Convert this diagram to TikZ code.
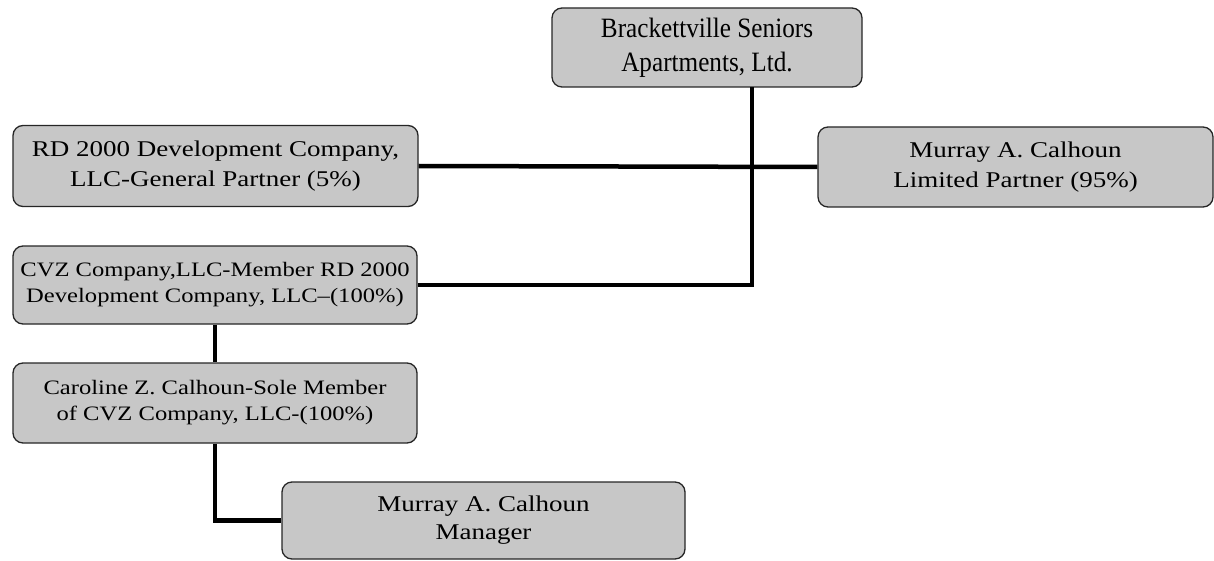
\documentclass[tikz,border=0pt]{standalone}
\usepackage{fontspec}
\setmainfont{Liberation Serif}[FakeStretch=1.2]
\newfontfamily\topfont{Liberation Serif}[FakeStretch=0.9]
\usetikzlibrary{positioning}

\begin{document}
\begin{tikzpicture}[x=1pt,y=-1pt]

      \tikzstyle{orgbox}=[rectangle,rounded corners=10pt,draw=black!85,
        line width=1.3pt,fill=black!22,align=center,inner sep=0pt,
        font=\rmfamily\fontsize{22.5}{30}\selectfont]
      \tikzstyle{link}=[line width=4.5pt,black]

      \useasboundingbox (0,0) rectangle (1214,561);

      \node(Seniors)[orgbox,minimum width=310pt,minimum height=79pt,
        font=\topfont\fontsize{28}{34}\selectfont] at (707,47.5)
        {Brackettville Seniors\\Apartments, Ltd.};
      \node(RDGP)[orgbox,minimum width=405pt,minimum height=81pt]
        at (215.5,166) {RD 2000 Development Company,\\LLC-General Partner (5\%)};
      \node(MurrayLP)[orgbox,minimum width=395pt,minimum height=80pt]
        at (1015.5,167) {Murray A. Calhoun\\Limited Partner (95\%)};
      \node(CVZ)[orgbox,minimum width=404pt,minimum height=78pt,
        font=\rmfamily\fontsize{20.5}{26}\selectfont] at (215,285)
        {CVZ Company,LLC-Member RD 2000\\Development Company, LLC--(100\%)};
      \node(Caroline)[orgbox,minimum width=404pt,minimum height=80pt,
        font=\rmfamily\fontsize{20.5}{26}\selectfont] at (215,403)
        {Caroline Z. Calhoun-Sole Member\\of CVZ Company, LLC-(100\%)};
      \node(Manager)[orgbox,minimum width=403pt,minimum height=77pt,
        font=\rmfamily\fontsize{22.5}{28}\selectfont]
        at (483.5,520.5) {Murray A. Calhoun\\Manager};

      \coordinate(trunk) at (752,87);

      \draw [link] (RDGP.east)--(MurrayLP.west);
      \draw [link] (CVZ.east)-|(trunk);
      \draw [link] (CVZ.south)--(Caroline.north);
      \draw [link] (Caroline.south)|-(Manager.west);

    \end{tikzpicture}
\end{document}
